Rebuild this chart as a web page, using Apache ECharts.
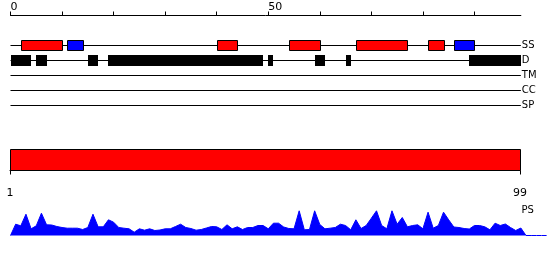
<!DOCTYPE html>
<html><head><meta charset="utf-8">
<script src="https://cdn.jsdelivr.net/npm/echarts@6/dist/echarts.min.js"></script>
<style>html,body{margin:0;padding:0;background:#fff}#c{width:550px;height:260px}</style>
</head><body><div id="c"></div>
<script>
const seqLength = 99;
const topTicks = [0,10,20,30,40,50,60,70,80,90];
const topLabels = [0,50];
const tracks = ['SS','D','TM','CC','SP'];
const ssHelix = [[2,10],[40,44],[54,60],[67,77],[81,84]];
const ssStrand = [[11,14],[86,90]];
const disorder = [[0,4],[5,7],[15,17],[19,49],[50,51],[59,61],[65,66],[89,99]];
const domainRange = [1,99];
const domainTicks = [1,99];
const psLabel = 'PS';
const psValues = [0,11.3,9.7,21.3,6.7,9.7,22.3,10.7,10.5,9,
  8,7.3,7.3,7.3,6,8,21.3,8.7,8.7,15.7,
  13.3,8,7.3,6.7,3.3,6.7,5.3,6.7,5,5.5,
  6.7,6.7,9,11.3,8,7,5.3,6,7.5,9,
  8.7,6,10.7,6.7,8.7,6,8,8,10,10,
  6.7,12.3,12.3,8.5,7,6.7,24.7,5.7,6,24.7,
  11,6.7,7.3,8,11.3,10,5.7,15.7,7,10,
  17.3,24.7,10,6.7,24.7,11.3,18,8.7,10,10.7,
  6.7,23.3,7.3,10,23.3,15.7,8.5,8,7,6.5,
  10,10,8.7,5.7,12.3,10,11.5,8,5,7.5,
  0,0,0,0,0];

const FONT = 'DejaVu Sans';
const unit = 5.155;
const chart = echarts.init(document.getElementById('c'), null, {renderer:'canvas'});

function segRender(kind){
  return function(params, api){
    const s = api.value(0), e = api.value(1), t = api.value(2);
    const p1 = api.coord([s, t]), p2 = api.coord([e, t]);
    const x1 = Math.round(p1[0]), x2 = Math.round(p2[0]);
    const cy = p1[1];
    if (kind === 'D') {
      return {type:'rect', shape:{x:x1, y:cy-5.5, width:x2-x1, height:11},
        style:{fill:'#000'}};
    }
    return {type:'rect', shape:{x:x1+0.5, y:cy-5, width:x2-x1, height:10},
      style:{fill: kind==='H' ? '#ff0000' : '#0000ff', stroke:'#000', lineWidth:1}};
  };
}

const option = {
  animation:false,
  grid:[
    {left:10.5, top:45.5, width:seqLength*unit, height:60},
    {left:10, top:149.5, width:510, height:21},
    {left:10.5, top:210.5, width:(psValues.length-1)*unit, height:25}
  ],
  xAxis:[
    {gridIndex:0, type:'value', position:'top', offset:30, min:0, max:seqLength,
      axisLine:{show:true, lineStyle:{color:'#000', width:1}},
      axisTick:{show:true, customValues:topTicks, length:4, lineStyle:{color:'#000'}},
      axisLabel:{show:true, customValues:topLabels, align:'left', margin:3,
        fontSize:11, fontFamily:FONT, color:'#000'},
      splitLine:{show:false}},
    {gridIndex:1, type:'value', position:'bottom', offset:10, min:domainRange[0], max:domainRange[1],
      axisLine:{show:true, lineStyle:{color:'#000', width:1}},
      axisTick:{show:true, customValues:domainTicks, length:4, lineStyle:{color:'#000'}},
      axisLabel:{show:true, customValues:domainTicks, margin:7,
        fontSize:11, fontFamily:FONT, color:'#000'},
      splitLine:{show:false}},
    {gridIndex:2, type:'value', min:0, max:psValues.length-1, show:false}
  ],
  yAxis:[
    {gridIndex:0, type:'category', data:tracks, inverse:true, boundaryGap:false, position:'right',
      axisLine:{show:false}, axisTick:{show:false},
      axisLabel:{margin:1, fontSize:10, fontFamily:FONT, color:'#000'},
      splitLine:{show:false}},
    {gridIndex:1, type:'value', min:0, max:1, show:false},
    {gridIndex:2, type:'value', min:0, max:25, show:false}
  ],
  graphic:[
    {type:'text', left:521.5, top:205, style:{text:psLabel, fontSize:10, fontFamily:FONT, fill:'#000'}}
  ],
  series:[
    {type:'custom', xAxisIndex:0, yAxisIndex:0, silent:true,
      data: tracks.map((t,i)=>[0, seqLength, i]),
      renderItem:function(params, api){
        const t = api.value(2);
        const p1 = api.coord([api.value(0), t]), p2 = api.coord([api.value(1), t]);
        return {type:'line', shape:{x1:p1[0], y1:p1[1], x2:p2[0], y2:p2[1]},
          style:{stroke:'#000', lineWidth:1}};
      }},
    {type:'custom', xAxisIndex:0, yAxisIndex:0, silent:true,
      data: disorder.map(d=>[d[0], d[1], 1]), renderItem:segRender('D')},
    {type:'custom', xAxisIndex:0, yAxisIndex:0, silent:true,
      data: ssHelix.map(d=>[d[0], d[1], 0]), renderItem:segRender('H')},
    {type:'custom', xAxisIndex:0, yAxisIndex:0, silent:true,
      data: ssStrand.map(d=>[d[0], d[1], 0]), renderItem:segRender('E')},
    {type:'custom', xAxisIndex:1, yAxisIndex:1, silent:true,
      data: [[domainRange[0], domainRange[1]]],
      renderItem:function(params, api){
        const p1 = api.coord([api.value(0), 1]), p2 = api.coord([api.value(1), 0]);
        return {type:'rect', shape:{x:Math.round(p1[0])+0.5, y:p1[1], width:Math.round(p2[0]-p1[0]), height:p2[1]-p1[1]},
          style:{fill:'#ff0000', stroke:'#000', lineWidth:1}};
      }},
    {type:'line', xAxisIndex:2, yAxisIndex:2, silent:true, symbol:'none',
      data: psValues.map((v,i)=>[i, v]),
      lineStyle:{color:'#0000ff', width:1},
      areaStyle:{color:'#0000ff', opacity:1}}
  ]
};
chart.setOption(option);
</script></body></html>
